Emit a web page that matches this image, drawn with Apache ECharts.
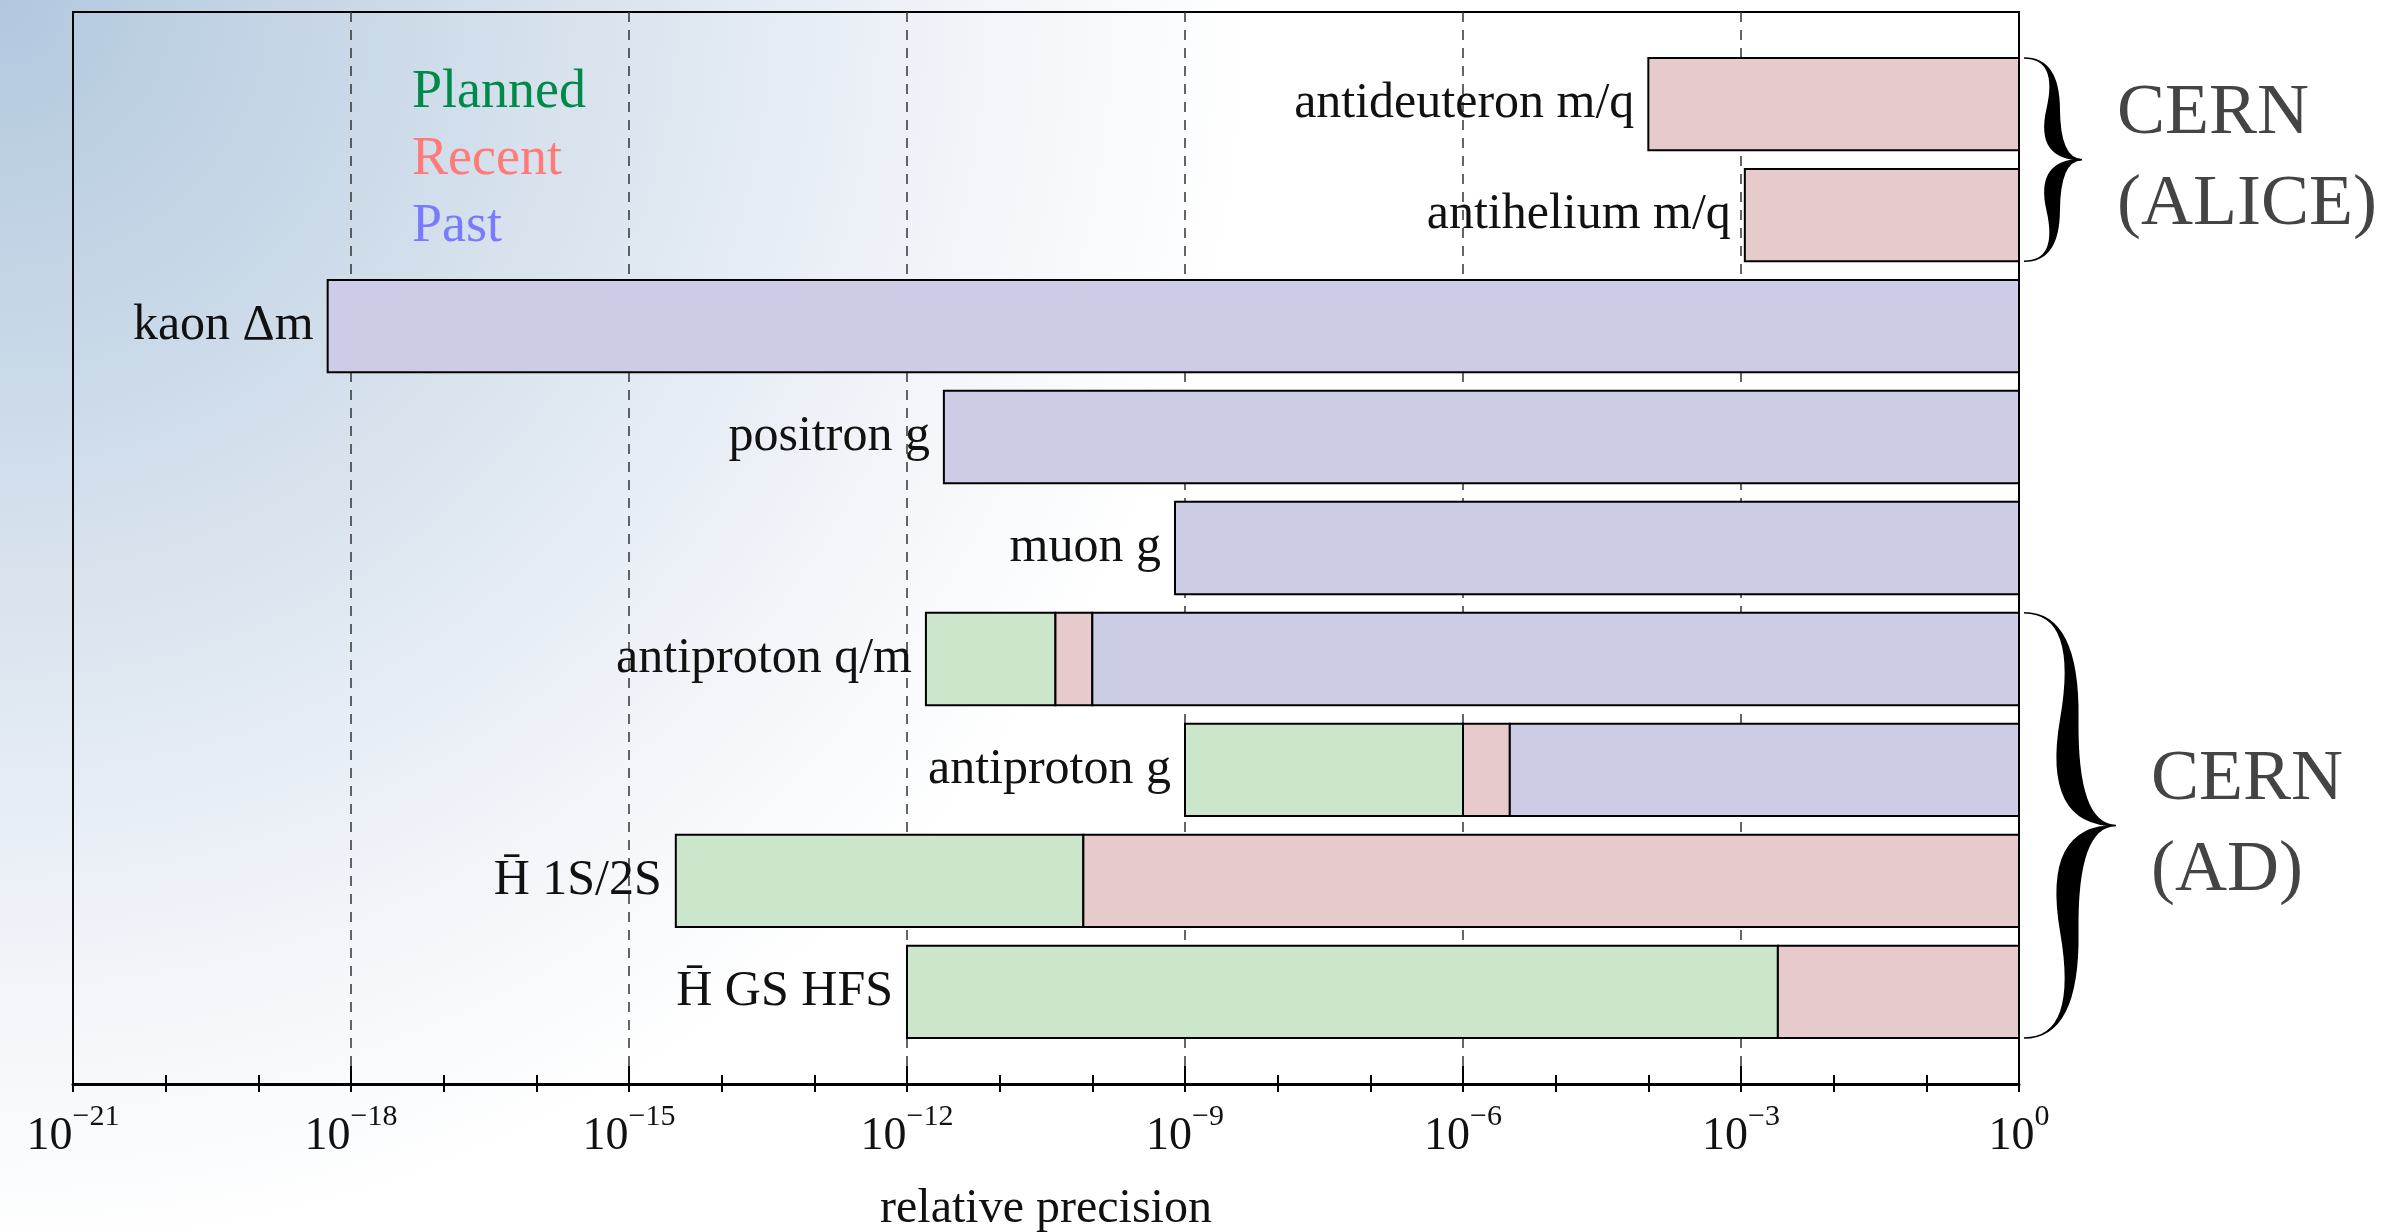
<!DOCTYPE html>
<html>
<head>
<meta charset="utf-8">
<script src="https://cdn.jsdelivr.net/npm/echarts@6/dist/echarts.min.js"></script>
<style>
  html, body { margin: 0; padding: 0; }
  #chart { width: 2387px; height: 1232px; }
</style>
</head>
<body>
<div id="chart"></div>
<script>
const categories = ['antideuteron m/q', 'antihelium m/q', 'kaon Δm', 'positron g', 'muon g',
  'antiproton q/m', 'antiproton g', 'H\u0304 1S/2S', 'H\u0304 GS HFS'];
// relative precision at which each stage starts (null = no such stage);
// a stage runs up to the start of the next stage, the last one up to 1
const plannedFrom = [null, null, null, null, null, 1.6e-12, 1e-9, 3.2e-15, 1e-12];
const recentFrom = [1e-4, 1.1e-3, null, null, null, 4e-11, 1e-6, 8e-11, 2.5e-3];
const pastFrom = [null, null, 5.6e-19, 2.5e-12, 7.8e-10, 1e-10, 3.2e-6, null, null];
const expMin = -21;
const expMax = 0;
const groupNames = [['CERN', '(ALICE)'], ['CERN', '(AD)']];
const groupRows = [[0, 1], [5, 8]];

const FONT = '"Liberation Serif", "DejaVu Serif", serif';
const BAR = 0.832;

const stages = [
  { name: 'Planned', from: plannedFrom, fill: '#cce6cc', text: '#008a4a' },
  { name: 'Recent', from: recentFrom, fill: '#e6cacc', text: '#ff7a78' },
  { name: 'Past', from: pastFrom, fill: '#cccce6', text: '#7a7aff' },
];

function stageData(k) {
  const out = [];
  categories.forEach((_, row) => {
    const start = stages[k].from[row];
    if (start == null) return;
    let end = 1;
    for (let j = k + 1; j < stages.length; j++) {
      if (stages[j].from[row] != null) { end = stages[j].from[row]; break; }
    }
    out.push([Math.log10(start), Math.log10(end), row]);
  });
  return out;
}

const labelData = categories.map((_, row) => {
  const starts = stages.map((s) => s.from[row]).filter((v) => v != null);
  return [Math.log10(Math.min(...starts)), row];
});

function renderBar(params, api) {
  const row = api.value(2);
  const p0 = api.coord([api.value(0), row - BAR / 2]);
  const p1 = api.coord([api.value(1), row + BAR / 2]);
  return {
    type: 'rect',
    shape: {
      x: p0[0], y: Math.min(p0[1], p1[1]),
      width: p1[0] - p0[0], height: Math.abs(p1[1] - p0[1]),
    },
    style: { fill: api.visual('color'), stroke: '#000', lineWidth: 2 },
  };
}

function renderLabel(params, api) {
  const p = api.coord([api.value(0), api.value(1)]);
  return {
    type: 'text',
    x: p[0] - 14,
    y: p[1],
    style: {
      text: categories[params.dataIndex],
      fill: '#111',
      fontFamily: FONT,
      fontSize: 50,
      align: 'right',
      verticalAlign: 'middle',
    },
  };
}

// curly brace: filled S-shaped arms meeting at a tip on the right
function bracePath(x, yTop, yBot, w, t) {
  const len = yBot - yTop;
  const ym = (yTop + yBot) / 2;
  const q = 0.6;
  const tip = [x + w, ym];
  const cT1 = [x + q * w, yTop];
  const qT = [x + (1 - q) * w, yTop + len / 4];
  const qT2 = [qT[0] + t, qT[1]];
  const cT2 = [2 * qT[0] - cT1[0], ym];
  const cT2b = [2 * qT2[0] - cT1[0], ym];
  const cB1 = [x + q * w, yBot];
  const qB = [x + (1 - q) * w, yBot - len / 4];
  const qB2 = [qB[0] + t, qB[1]];
  const cB2 = [2 * qB[0] - cB1[0], ym];
  const cB2b = [2 * qB2[0] - cB1[0], ym];
  const f = (p) => p[0].toFixed(1) + ' ' + p[1].toFixed(1);
  return 'M ' + f([x, yTop])
    + ' Q ' + f(cT1) + ' ' + f(qT)
    + ' Q ' + f(cT2) + ' ' + f(tip)
    + ' Q ' + f(cB2) + ' ' + f(qB)
    + ' Q ' + f(cB1) + ' ' + f([x, yBot])
    + ' Q ' + f(cB1) + ' ' + f(qB2)
    + ' Q ' + f(cB2b) + ' ' + f(tip)
    + ' Q ' + f(cT2b) + ' ' + f(qT2)
    + ' Q ' + f(cT1) + ' ' + f([x, yTop]) + ' Z';
}

function renderBrace(params, api) {
  const i = params.dataIndex;
  const top = api.coord([expMax, api.value(0) - BAR / 2]);
  const bot = api.coord([expMax, api.value(1) + BAR / 2]);
  const w = i === 0 ? 58 : 92;
  const t = i === 0 ? 12 : 17;
  const x = top[0] + 5;
  const yTop = top[1];
  const yBot = bot[1];
  return {
    type: 'group',
    children: [{
      type: 'path',
      shape: { pathData: bracePath(x, yTop, yBot, w, t), x: x, y: yTop, width: w, height: yBot - yTop },
      style: { fill: '#000', stroke: '#000', lineWidth: 1.5 },
    }, {
      type: 'text',
      x: x + w + 35,
      y: (yTop + yBot) / 2,
      style: {
        text: groupNames[i].join('\n'),
        fill: '#444',
        fontFamily: FONT,
        fontSize: 72,
        lineHeight: 91,
        align: 'left',
        verticalAlign: 'middle',
      },
    }],
  };
}

const tickStyle = { color: '#000', width: 2 };

const chart = echarts.init(document.getElementById('chart'));
chart.setOption({
  animation: false,
  backgroundColor: {
    type: 'radial', x: 0, y: 0, r: 1.2,
    colorStops: [
      { offset: 0, color: '#b2c8df' },
      { offset: 0.35, color: '#d4e0ec' },
      { offset: 0.62, color: '#eef2f8' },
      { offset: 0.85, color: '#ffffff' },
    ],
  },
  grid: {
    left: 73, right: 368, top: 12, bottom: 148,
    outerBoundsMode: 'none',
    show: true, borderColor: '#000', borderWidth: 2, backgroundColor: 'transparent',
  },
  legend: {
    orient: 'vertical', left: 402, top: 61,
    icon: 'none', itemWidth: 0, itemHeight: 0, itemGap: 13,
    selectedMode: false,
    textStyle: { fontFamily: FONT, fontSize: 54, lineHeight: 54 },
    data: stages.map((s) => ({ name: s.name, textStyle: { color: s.text } })),
  },
  xAxis: [{
    type: 'value', min: expMin, max: expMax, interval: 3,
    name: 'relative precision', nameLocation: 'middle', nameGap: 101,
    nameTextStyle: { fontFamily: FONT, fontSize: 48, color: '#111' },
    axisLine: { onZero: false, lineStyle: { color: '#000', width: 3 } },
    axisTick: { inside: true, length: 18, lineStyle: tickStyle },
    minorTick: { show: true, splitNumber: 3, length: 9, lineStyle: tickStyle },
    splitLine: {
      show: true, showMinLine: false, showMaxLine: false,
      lineStyle: { color: '#333', width: 1.5, type: [10, 8] },
    },
    axisLabel: {
      margin: 18,
      formatter: (v) => '{b|10}{s|' + (v === 0 ? '0' : '\u2212' + (-v)) + '}',
      rich: {
        b: { fontFamily: FONT, fontSize: 46, lineHeight: 58, verticalAlign: 'bottom', color: '#111' },
        s: { fontFamily: FONT, fontSize: 30, lineHeight: 30, verticalAlign: 'top', color: '#111' },
      },
    },
  }, {
    type: 'value', min: expMin, max: expMax, interval: 3, position: 'bottom',
    axisLine: { show: false, onZero: false },
    axisLabel: { show: false },
    splitLine: { show: false },
    axisTick: { length: 8, lineStyle: tickStyle },
    minorTick: { show: true, splitNumber: 3, length: 8, lineStyle: tickStyle },
  }],
  yAxis: { type: 'value', min: -0.83, max: 8.83, inverse: true, show: false },
  series: [
    ...stages.map((s, k) => ({
      name: s.name,
      type: 'custom',
      xAxisIndex: 0,
      renderItem: renderBar,
      itemStyle: { color: s.fill },
      encode: { x: [0, 1], y: 2 },
      data: stageData(k),
      z: 3,
    })),
    {
      name: 'labels',
      type: 'custom',
      xAxisIndex: 0,
      silent: true,
      renderItem: renderLabel,
      encode: { x: 0, y: 1 },
      data: labelData,
      z: 4,
    },
    {
      name: 'groups',
      type: 'custom',
      xAxisIndex: 0,
      silent: true,
      clip: false,
      renderItem: renderBrace,
      encode: { y: [0, 1] },
      data: groupRows,
      z: 4,
    },
  ],
});
</script>
</body>
</html>
